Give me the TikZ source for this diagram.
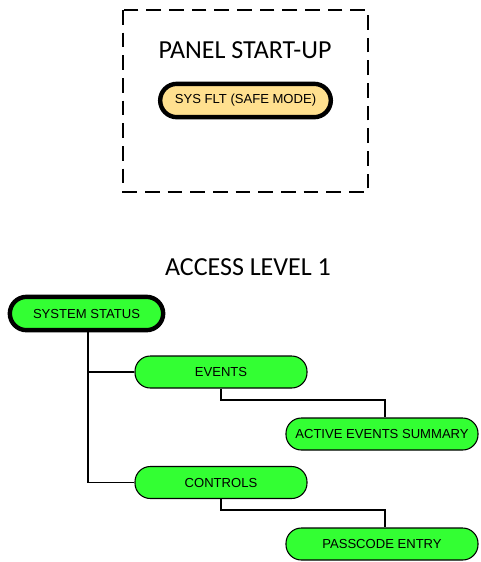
\documentclass[tikz,border=0pt]{standalone}
\usepackage{fontspec}
\setmainfont{Liberation Sans}
\newfontfamily\titlefont{Carlito}
\begin{document}
\begin{tikzpicture}[x=0.75pt,y=-0.75pt,
  pill/.style={draw=black, line width=0.8pt, fill=pillgreen, rounded corners=11.5pt,
    minimum height=24pt, inner sep=0pt, font=\fontsize{9.8pt}{11pt}\selectfont},
  thickpill/.style={pill, line width=3.3pt, minimum height=25pt, rounded corners=12.5pt},
  link/.style={draw=black, line width=1.1pt},
  title/.style={font=\titlefont\fontsize{19.5pt}{22pt}\selectfont, inner sep=0pt}]
\definecolor{pillgreen}{HTML}{33FF33}
\definecolor{pillorange}{HTML}{FFE08F}
\useasboundingbox (0,0) rectangle (480,562);
% start-up box
\draw[line width=2.2pt, dash pattern=on 11pt off 6pt] (123,10) rectangle (368,192);
\node[title] (paneltitle) at (245,50) {PANEL START-UP};
\node[thickpill, fill=pillorange, minimum width=128pt] (sysflt) at (245.5,100.5) {SYS FLT (SAFE MODE)};
% access level
\node[title] (accesstitle) at (248,267) {ACCESS LEVEL 1};
\node[thickpill, minimum width=115pt] (status) at (86.5,313.5) {SYSTEM STATUS};
\node[pill, minimum width=129pt] (events) at (221,372) {EVENTS};
\node[pill, minimum width=144pt] (aes) at (382,434) {ACTIVE EVENTS SUMMARY};
\node[pill, minimum width=129pt] (controls) at (221,482.5) {CONTROLS};
\node[pill, minimum width=144pt] (pass) at (382,544) {PASSCODE ENTRY};
% connectors
\coordinate (trunk) at (88,0);
\draw[link] (status.south -| trunk) |- (controls.west);
\draw[link] (events.west) -- (events.west -| trunk);
\coordinate (e1) at (221,400);
\coordinate (c1) at (221,510);
\draw[link] (events.south) -- (e1) -| ([xshift=2.3pt]aes.north);
\draw[link] (controls.south) -- (c1) -| ([xshift=2.3pt]pass.north);
\end{tikzpicture}
\end{document}
